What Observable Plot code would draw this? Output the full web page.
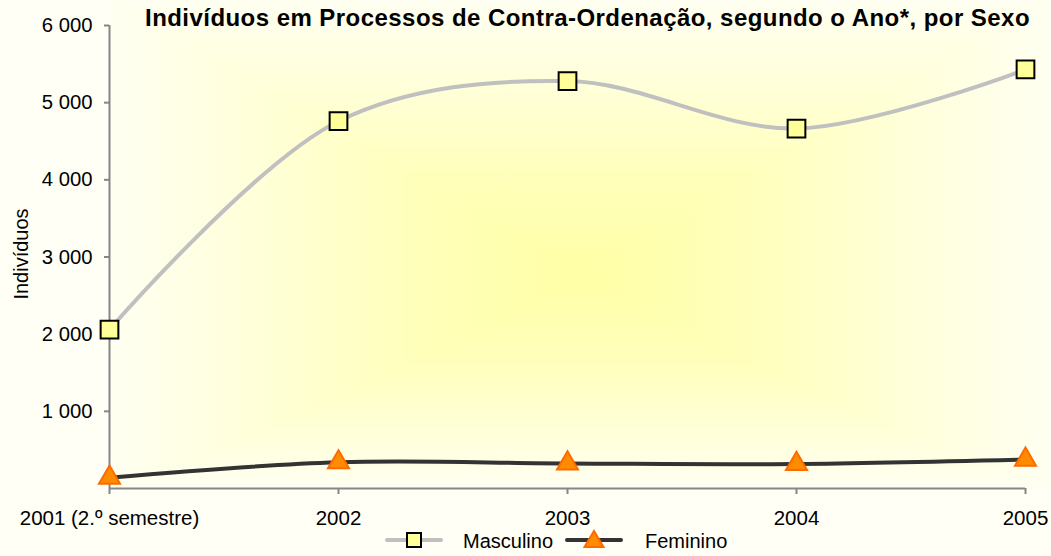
<!DOCTYPE html>
<html>
<head>
<meta charset="utf-8">
<script src="https://cdn.jsdelivr.net/npm/d3@7"></script>
<script src="https://cdn.jsdelivr.net/npm/@observablehq/plot@0.6"></script>
<style>
  html, body { margin: 0; padding: 0; background: #ffffff; }
  #wrap {
    position: relative; width: 1051px; height: 556px; overflow: hidden;
    font-family: "Liberation Sans", Arial, sans-serif; color: #000;
    background: #fffff6;
  }
  #bg {
    position: absolute; left: 110px; top: 0px; width: 941px; height: 488px;
    background:
      linear-gradient(to right, #fffff2 0%, #ffffdc 14%, #ffffbc 32%, #ffffa6 50%, #ffffbc 68%, #ffffdc 86%, #fffff2 100%),
      linear-gradient(to bottom, #fffff2 0%, #ffffdc 16%, #ffffbc 36%, #ffffa6 56%, #ffffbc 74%, #ffffdc 90%, #fffff2 100%);
    background-blend-mode: lighten;
  }
  #chart { position: absolute; left: 0; top: 0; }
  #title {
    position: absolute; top: 6px; right: 21px; font-size: 24px; line-height: 24px;
    font-weight: bold; letter-spacing: 0.45px; white-space: nowrap;
  }
  #legend { position: absolute; left: 0; top: 528px; width: 1051px; height: 26px; font-size: 20px; }
  #legend .sw { position: absolute; top: 0; }
  #legend .lb { position: absolute; top: 1px; line-height: 24px; }
</style>
</head>
<body>
<div id="wrap">
  <div id="bg"></div>
  <div id="chart"></div>
  <div id="title">Indivíduos em Processos de Contra-Ordenação, segundo o Ano*, por Sexo</div>
  <div id="legend"></div>
</div>
<script>
const categories = ["2001 (2.º semestre)", "2002", "2003", "2004", "2005"];
const masculino = [2060, 4760, 5280, 4665, 5430];
const feminino = [140, 340, 325, 318, 375];
const yTicks = [1000, 2000, 3000, 4000, 5000, 6000];
const seriesNames = ["Masculino", "Feminino"];
const yLabel = "Indivíduos";

const mascData = categories.map((c, i) => ({cat: c, v: masculino[i]}));
const femData = categories.map((c, i) => ({cat: c, v: feminino[i]}));
const fmt = d => d3.format(",")(d).replace(/,/g, " ");

const axisGray = "#868686";

const chart = Plot.plot({
  width: 1051,
  height: 528,
  marginLeft: 109,
  marginRight: 26,
  marginTop: 25,
  marginBottom: 40,
  style: {background: "transparent", fontFamily: "'Liberation Sans', Arial, sans-serif", fontSize: "20px", color: "#000", overflow: "visible"},
  x: {type: "point", domain: categories, padding: 0, label: null},
  y: {domain: [0, 6000], label: null},
  marks: [
    Plot.ruleX([categories[0]], {y1: 0, y2: 6000, stroke: axisGray, strokeWidth: 2}),
    Plot.ruleY([0], {stroke: axisGray, strokeWidth: 2}),
    Plot.axisY({ticks: yTicks, tickSize: 5, tickPadding: 12, tickFormat: fmt, stroke: axisGray, strokeWidth: 2, label: null, fill: "#000", fontSize: 20.3}),
    Plot.axisX({tickSize: 6, tickPadding: 16, stroke: axisGray, strokeWidth: 2, label: null, fill: "#000", fontSize: 20.5}),
    Plot.text([yLabel], {frameAnchor: "left", textAnchor: "middle", rotate: -90, dx: -88, dy: -3, fontSize: 20, fill: "#000"}),
    Plot.line(mascData, {x: "cat", y: "v", stroke: "#c0c0c0", strokeWidth: 4, curve: "catmull-rom"}),
    Plot.line(femData, {x: "cat", y: "v", stroke: "#333333", strokeWidth: 4, curve: "catmull-rom"}),
    Plot.dot(mascData, {x: "cat", y: "v", symbol: "square", r: 10, fill: "#ffff99", stroke: "#000", strokeWidth: 2}),
    Plot.dot(femData, {x: "cat", y: "v", symbol: "triangle", r: 7.8, fill: "#ff8c00", stroke: "#ff6a00", strokeWidth: 2})
  ]
});
document.getElementById("chart").appendChild(chart);

// Legend
const legend = document.getElementById("legend");
const items = [
  {name: seriesNames[0], line: "#c0c0c0", sw: 385, lb: 463,
   marker: '<rect x="22" y="5" width="14" height="14" fill="#ffff99" stroke="#000" stroke-width="2"/>'},
  {name: seriesNames[1], line: "#333333", sw: 565, lb: 645,
   marker: '<path d="M29,3 L38.5,19 L19.5,19 Z" fill="#ff8c00" stroke="#ff6a00" stroke-width="2"/>'}
];
for (const it of items) {
  const s = document.createElement("div");
  s.className = "sw";
  s.style.left = it.sw + "px";
  s.innerHTML = `<svg width="58" height="24"><line x1="2" y1="12" x2="56" y2="12" stroke="${it.line}" stroke-width="4" stroke-linecap="round"/>${it.marker}</svg>`;
  legend.appendChild(s);
  const l = document.createElement("div");
  l.className = "lb";
  l.style.left = it.lb + "px";
  l.textContent = it.name;
  legend.appendChild(l);
}
</script>
</body>
</html>
